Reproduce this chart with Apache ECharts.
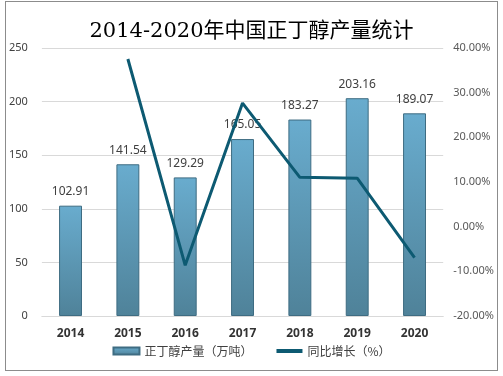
<!DOCTYPE html>
<html>
<head>
<meta charset="utf-8">
<script src="https://cdn.jsdelivr.net/npm/echarts@6/dist/echarts.min.js"></script>
<style>
	html, body { margin: 0; padding: 0; background: #fff; }
	#chart {
		position: absolute;
		left: 5px; top: 1px;
		width: 491px; height: 368px;
		border: 1px solid #8c8c8c;
	}
</style>
</head>
<body>
<div id="chart"></div>
<script>
// 年份
const years = ['2014', '2015', '2016', '2017', '2018', '2019', '2020'];
// 正丁醇产量（万吨）
const output = [102.91, 141.54, 129.29, 165.05, 183.27, 203.16, 189.07];
// 同比增长（%），2014 无数据
const growth = [null, 37.54, -8.65, 27.66, 11.04, 10.85, -6.94];

const myChart = echarts.init(document.getElementById('chart'));

const option = {
	animation: false,
	title: {
		text: '2014-2020年中国正丁醇产量统计',
		left: 'center',
		top: 14,
		textStyle: {
			fontFamily: '"DejaVu Serif", "Liberation Serif", "Noto Sans CJK SC", serif',
			fontSize: 21,
			fontWeight: 'normal',
			color: '#000'
		}
	},
	legend: {
		bottom: 8,
		left: 'center',
		itemGap: 24,
		itemWidth: 26,
		itemHeight: 7,
		textStyle: {
			fontFamily: '"Noto Sans CJK SC", sans-serif',
			fontSize: 12,
			color: '#404040'
		},
		data: [
			{ name: '正丁醇产量（万吨）', icon: 'rect' },
			{ name: '同比增长（%）', icon: 'path://M0,0 L26,0 L26,4 L0,4 Z' }
		]
	},
	grid: {
		left: 35,
		right: 52,
		top: 46,
		bottom: 54
	},
	xAxis: [{
		type: 'category',
		data: years,
		axisTick: { show: false },
		axisLine: { lineStyle: { color: '#d9d9d9' } },
		axisLabel: {
			margin: 12,
			fontFamily: '"Noto Sans", sans-serif',
			fontSize: 12,
			fontWeight: 'bold',
			color: '#333'
		}
	}],
	yAxis: [
		{
			type: 'value',
			min: 0,
			max: 250,
			interval: 50,
			axisLine: { show: false },
			axisTick: { show: false },
			splitLine: { lineStyle: { color: '#d9d9d9' } },
			axisLabel: {
				margin: 14,
				fontFamily: '"Noto Sans", sans-serif',
				fontSize: 11,
				color: '#404040'
			}
		},
		{
			type: 'value',
			min: -20,
			max: 40,
			interval: 10,
			axisLine: { show: false },
			axisTick: { show: false },
			splitLine: { show: false },
			axisLabel: {
				margin: 10,
				fontFamily: '"Noto Sans", sans-serif',
				fontSize: 11,
				color: '#595959',
				formatter: v => v.toFixed(2) + '%'
			}
		}
	],
	series: [
		{
			name: '正丁醇产量（万吨）',
			type: 'bar',
			barWidth: '40%',
			data: output,
			itemStyle: {
				color: new echarts.graphic.LinearGradient(0, 0, 0, 1, [
					{ offset: 0, color: '#69acce' },
					{ offset: 1, color: '#4f8299' }
				]),
				borderColor: '#3e6c82',
				borderWidth: 1
			},
			label: {
				show: true,
				position: 'top',
				distance: 8,
				fontFamily: '"Noto Sans", sans-serif',
				fontSize: 12,
				color: '#404040'
			}
		},
		{
			name: '同比增长（%）',
			type: 'line',
			yAxisIndex: 1,
			data: growth,
			symbol: 'none',
			lineStyle: { color: '#0d5a72', width: 3 },
			itemStyle: { color: '#0d5a72' }
		}
	]
};

myChart.setOption(option);
</script>
</body>
</html>
